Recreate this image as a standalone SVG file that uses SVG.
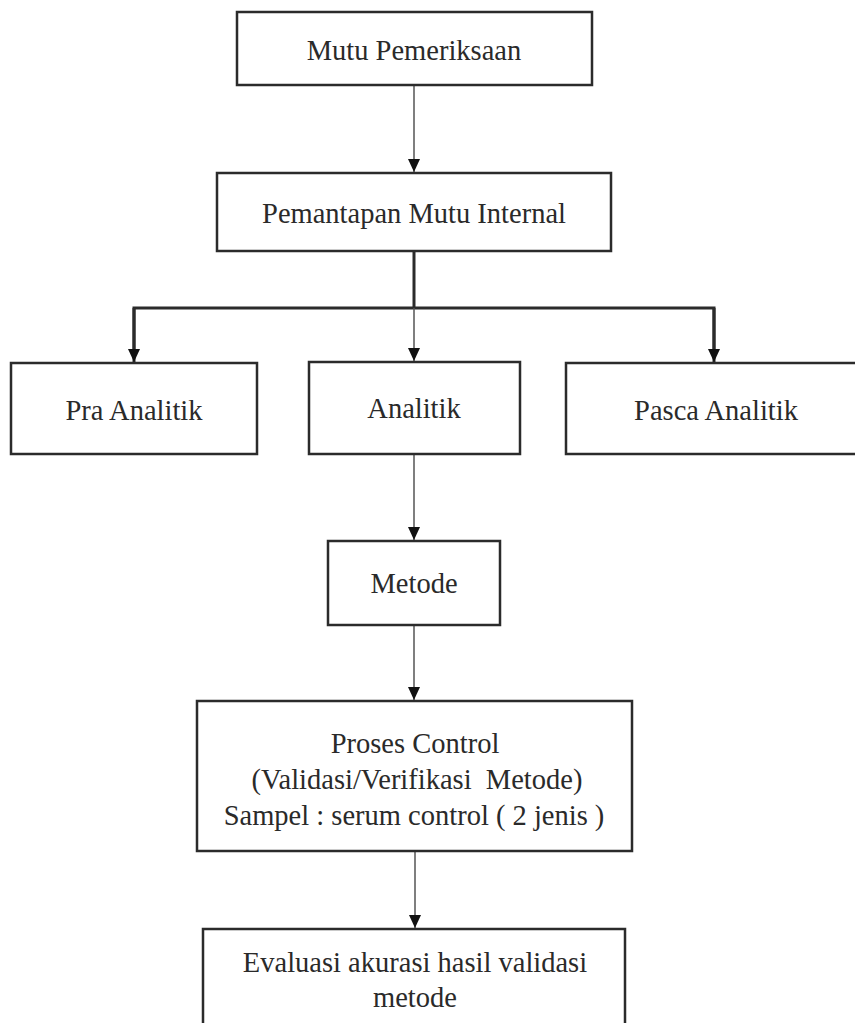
<svg xmlns="http://www.w3.org/2000/svg" width="855" height="1023" viewBox="0 0 855 1023">
<style>
.box{fill:#ffffff;stroke:#2b2b2b;stroke-width:2.5}
.t{font-size:28.5px;fill:#2a2a2a;text-anchor:middle}
.thin{stroke:#555555;stroke-width:1.5;fill:none}
.thick{stroke:#2b2b2b;stroke-width:3;fill:none}
</style>
<defs>
<marker id="arr" viewBox="0 0 13 12" refX="13" refY="6" markerWidth="13" markerHeight="12" markerUnits="userSpaceOnUse" orient="auto">
<path d="M0,0 L13,6 L0,12 z" fill="#111111"/>
</marker>
</defs>
<rect width="855" height="1023" fill="#ffffff"/>
<g id="connectors">
<line class="thin" x1="414" y1="86" x2="414" y2="172" marker-end="url(#arr)"/>
<line class="thick" x1="414" y1="252" x2="414" y2="308"/>
<polyline class="thick" points="134,350 134,308 714,308 714,350"/>
<line class="thick" x1="134" y1="308" x2="134" y2="362" marker-end="url(#arr)"/>
<line class="thick" x1="714" y1="308" x2="714" y2="362" marker-end="url(#arr)"/>
<line class="thin" x1="414" y1="308" x2="414" y2="361" marker-end="url(#arr)"/>
<line class="thin" x1="414" y1="455" x2="414" y2="540" marker-end="url(#arr)"/>
<line class="thin" x1="414" y1="626" x2="414" y2="700" marker-end="url(#arr)"/>
<line class="thin" x1="415" y1="852" x2="415" y2="928" marker-end="url(#arr)"/>
</g>
<g font-family="'Liberation Serif', 'Times New Roman', 'DejaVu Serif', serif">
<g id="n-mutu">
<rect class="box" x="237" y="12" width="355" height="73"/>
<text class="t" x="414" y="60">Mutu Pemeriksaan</text>
</g>
<g id="n-pemantapan">
<rect class="box" x="217" y="173" width="394" height="78"/>
<text class="t" x="414" y="223">Pemantapan Mutu Internal</text>
</g>
<g id="n-pra">
<rect class="box" x="11" y="363" width="246" height="91"/>
<text class="t" x="134" y="420">Pra Analitik</text>
</g>
<g id="n-analitik">
<rect class="box" x="309" y="362" width="211" height="92"/>
<text class="t" x="414" y="418">Analitik</text>
</g>
<g id="n-pasca">
<rect class="box" x="566" y="363" width="300" height="91"/>
<text class="t" x="716" y="420">Pasca Analitik</text>
</g>
<g id="n-metode">
<rect class="box" x="328" y="541" width="172" height="84"/>
<text class="t" x="414" y="593">Metode</text>
</g>
<g id="n-proses">
<rect class="box" x="197" y="701" width="435" height="150"/>
<text class="t" x="415" y="753">Proses Control</text>
<text class="t" x="417" y="789" xml:space="preserve">(Validasi/Verifikasi  Metode)</text>
<text class="t" x="414" y="825">Sampel : serum control ( 2 jenis )</text>
</g>
<g id="n-evaluasi">
<rect class="box" x="203" y="929" width="422" height="110"/>
<text class="t" x="415" y="972">Evaluasi akurasi hasil validasi</text>
<text class="t" x="415" y="1007">metode</text>
</g>
</g>
</svg>
